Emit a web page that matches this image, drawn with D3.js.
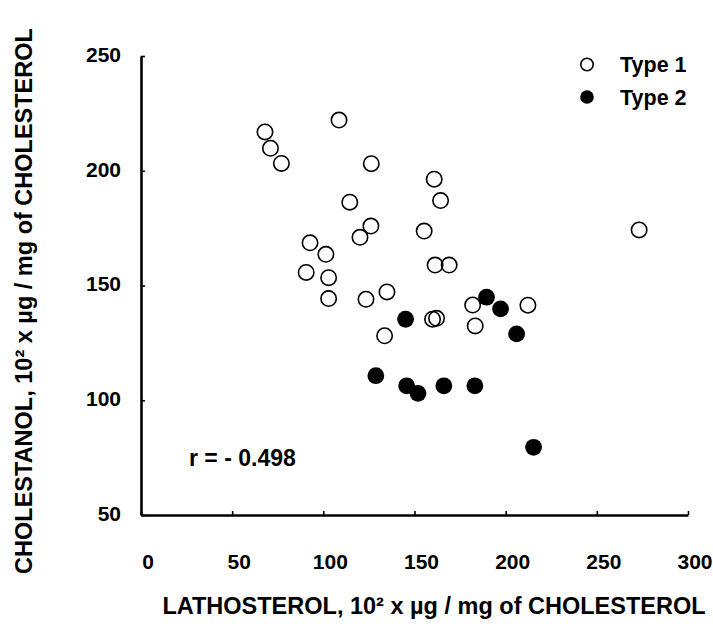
<!DOCTYPE html>
<html>
<head>
<meta charset="utf-8">
<script src="https://cdn.jsdelivr.net/npm/d3@7"></script>
<style>
  html, body { margin: 0; padding: 0; background: #fff; }
  svg { display: block; font-family: "Liberation Sans", Arial, sans-serif; }
</style>
</head>
<body>
<svg id="chart" width="713" height="634"></svg>
<script>
// Data
const type1X = [68, 71, 77, 108.6, 114.5, 126.3, 160.8, 164.3, 126.1, 120.1, 155.3, 92.7, 101.4, 90.6, 102.9, 161.3, 169, 102.9, 123.4, 134.9, 133.6, 159.9, 162.1, 181.9, 183.3, 212.2, 273.2];
const type1Y = [216.9, 209.8, 203.2, 222.1, 186.3, 203.1, 196.3, 187, 175.9, 171, 173.7, 168.6, 163.6, 155.7, 153.4, 158.9, 158.9, 144.3, 144, 147.2, 128.1, 135.3, 135.7, 141.5, 132.4, 141.4, 174.2];
const type2X = [145.1, 189.5, 197.2, 206, 128.8, 145.7, 151.9, 166.1, 183.1, 215.3];
const type2Y = [135.3, 144.9, 139.8, 128.9, 110.7, 106.3, 103, 106.3, 106.3, 79.5];
const xTicks = [0, 50, 100, 150, 200, 250, 300];
const yTicks = [50, 100, 150, 200, 250];
const seriesNames = ["Type 1", "Type 2"];
const xTitle = "LATHOSTEROL, 10² x µg / mg of CHOLESTEROL";
const yTitle = "CHOLESTANOL, 10² x µg / mg of CHOLESTEROL";
const rLabel = "r = - 0.498";

const svg = d3.select("#chart");
const x = d3.scaleLinear().domain([0, 300]).range([141, 688]);
const y = d3.scaleLinear().domain([50, 250]).range([515, 56]);

// axes
const xAxis = d3.axisBottom(x).tickValues(xTicks).tickSizeInner(-4).tickSizeOuter(0).tickFormat(d3.format("d"));
const yAxis = d3.axisLeft(y).tickValues(yTicks).tickSizeInner(-4).tickSizeOuter(0).tickFormat(d3.format("d"));

const gx = svg.append("g").attr("transform", `translate(0,${y(50)})`).call(xAxis);
const gy = svg.append("g").attr("transform", `translate(${x(0)},0)`).call(yAxis);

[gx, gy].forEach(g => {
  g.select(".domain").attr("stroke", "#000").attr("stroke-width", 2.6);
  g.selectAll(".tick line").attr("stroke", "#000").attr("stroke-width", 1.6);
  g.selectAll(".tick text").attr("fill", "#000").attr("font-size", 21).attr("font-weight", "bold")
    .attr("font-family", "'Liberation Sans', Arial, sans-serif");
});
gx.selectAll(".tick text").attr("dy", null).attr("y", 54).attr("x", 6.5);
gy.selectAll(".tick text").attr("x", -20).attr("dy", "0.35em").attr("y", -2);

// points
const t1 = type1X.map((v, i) => ({x: v, y: type1Y[i]}));
const t2 = type2X.map((v, i) => ({x: v, y: type2Y[i]}));

svg.append("g").selectAll("circle").data(t1).join("circle")
  .attr("cx", d => x(d.x)).attr("cy", d => y(d.y)).attr("r", 7.7)
  .attr("fill", "none").attr("stroke", "#000").attr("stroke-width", 1.6);

svg.append("g").selectAll("circle").data(t2).join("circle")
  .attr("cx", d => x(d.x)).attr("cy", d => y(d.y)).attr("r", 8.4)
  .attr("fill", "#000");

// legend
const leg = svg.append("g");
seriesNames.forEach((name, i) => {
  const cy = 64.5 + i * 32.5;
  leg.append("circle").attr("cx", 587).attr("cy", cy).attr("r", i === 0 ? 6.2 : 6.8)
    .attr("fill", i === 0 ? "none" : "#000").attr("stroke", "#000").attr("stroke-width", i === 0 ? 1.6 : 0);
  leg.append("text").attr("x", 620).attr("y", cy + 7.5).text(name)
    .attr("font-size", 21.5).attr("font-weight", "bold").attr("fill", "#000");
});

// r label
svg.append("text").attr("x", 189).attr("y", 466).text(rLabel)
  .attr("font-size", 23).attr("font-weight", "bold").attr("fill", "#000");

// axis titles
svg.append("text").attr("x", 434).attr("y", 614).attr("text-anchor", "middle")
  .text(xTitle).attr("font-size", 23.5).attr("font-weight", "bold").attr("fill", "#000");
svg.append("text").attr("transform", "translate(32,301) rotate(-90)").attr("text-anchor", "middle")
  .text(yTitle).attr("font-size", 23.5).attr("font-weight", "bold").attr("fill", "#000");
</script>
</body>
</html>
